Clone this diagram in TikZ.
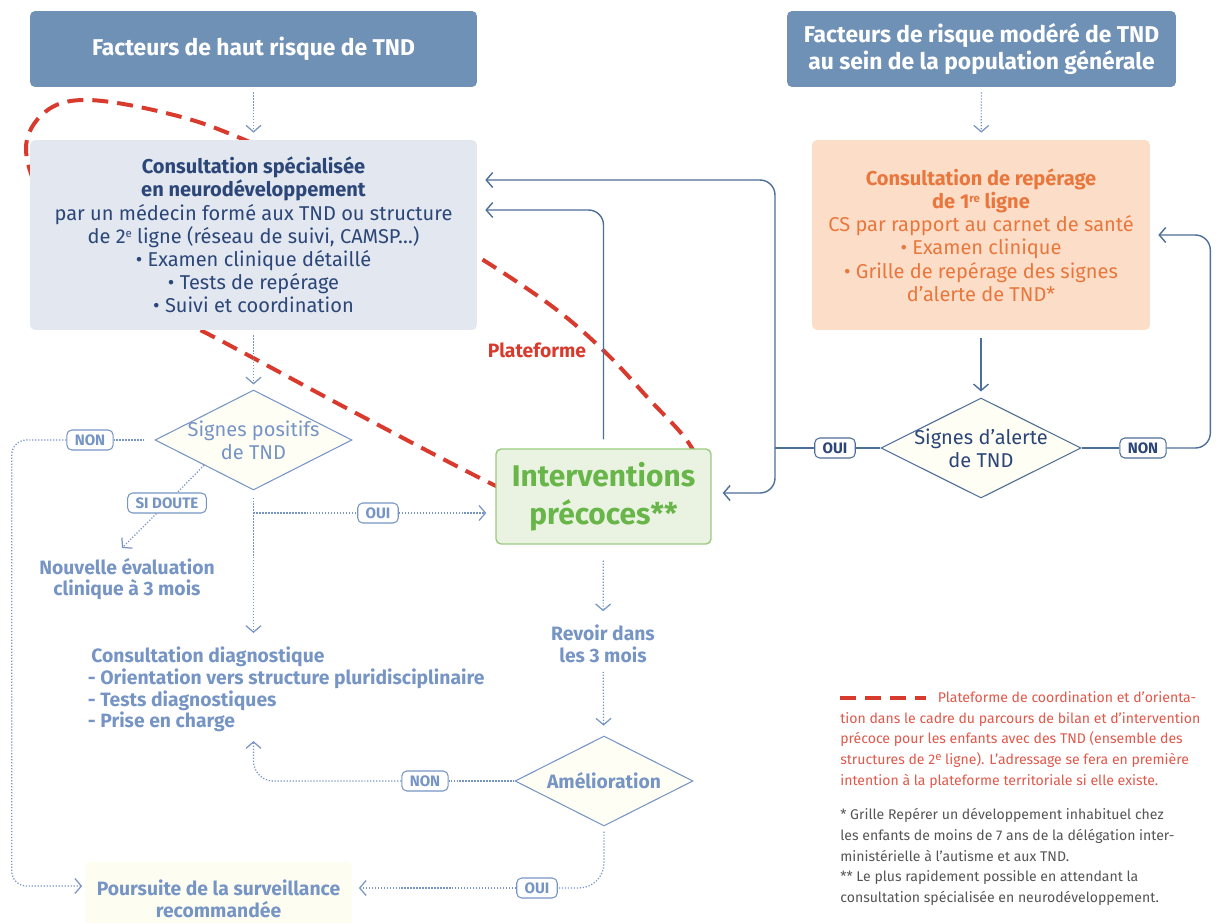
\documentclass[tikz,border=0pt]{standalone}
\usepackage{fontspec}
\setmainfont{Fira Sans}
\usetikzlibrary{shapes.geometric,arrows.meta}

\definecolor{bleuhaut}{HTML}{7091B6}
\definecolor{fondconsult}{HTML}{E2E7F0}
\definecolor{bleunuit}{HTML}{2B4677}
\definecolor{bleutrait}{HTML}{4D6E96}
\definecolor{bleuclair}{HTML}{7695C4}
\definecolor{fondorange}{HTML}{FCDDC7}
\definecolor{orangetxt}{HTML}{E9773D}
\definecolor{fondvert}{HTML}{EAF3E1}
\definecolor{bordvert}{HTML}{9BCB80}
\definecolor{vert}{HTML}{68B54A}
\definecolor{fondlosange}{HTML}{FEFEF5}
\definecolor{rougepf}{HTML}{D93A2E}
\definecolor{rougetxt}{HTML}{E0584A}
\definecolor{grisnote}{HTML}{555555}
\definecolor{fondpoursuite}{HTML}{FDFDF1}

\newcommand{\corps}{\fontsize{11.4}{13.2}\selectfont}
\newcommand{\gras}{\bfseries\fontsize{11}{12.4}\selectfont}
\newcommand{\expo}[1]{\raisebox{0.55ex}{\fontsize{6.5}{7}\selectfont #1}}

\tikzset{
  titre/.style={fill=bleuhaut, rounded corners=0.1cm, text=white, align=center,
    minimum height=1.52cm, font=\bfseries\fontsize{13}{15}\selectfont},
  boite/.style={rounded corners=0.1cm, align=center, inner sep=0pt},
  losange/.style={diamond, shape aspect=2, fill=fondlosange, inner sep=0pt, line width=0.6pt},
  texte/.style={align=center, inner sep=2pt},
  etiquette/.style={draw, fill=white, rounded corners=0.1cm, line width=0.6pt,
    inner xsep=4.5pt, inner ysep=0pt, minimum height=0.4cm, font=\bfseries\fontsize{8.6}{10}\selectfont},
  pointille/.style={draw=bleuclair, densely dotted, line width=0.7pt},
  fort/.style={draw=bleutrait, line width=0.8pt},
  fleche/.style={-{Straight Barb[length=0.13cm,width=0.3cm]}},
  plateforme/.style={draw=rougepf, line width=0.08cm, dash pattern=on 0.32cm off 0.18cm},
}

\begin{document}
\begin{tikzpicture}[x=0.02cm, y=-0.02cm]
   \useasboundingbox (0,0) rectangle (1218,923);

   \draw[plateforme] plot[smooth cycle, tension=0.6] coordinates {(26,150) (45,112) (88,100)
      (170,114) (245,140) (400,210) (477,256) (553,307) (605,352) (648,398) (690,445)
      (702,485) (660,527) (575,520) (496,486) (350,410) (210,335) (100,280) (48,210)};
   \node[text=rougepf, font=\bfseries\fontsize{11}{12}\selectfont] (pfLabel) at (537,350) {Plateforme};

   \node[titre, minimum width=8.94cm] (haut) at (253.5,49) {Facteurs de haut risque de TND};
   \node[titre, minimum width=7.78cm] (modere) at (981.5,49)
      {Facteurs de risque modéré de TND\\au sein de la population générale};

   \node[boite, fill=fondconsult, text=bleunuit, minimum width=8.94cm, minimum height=3.8cm, font=\corps]
      (consult) at (253.5,235) {\textbf{Consultation spécialisée}\\\textbf{en neurodéveloppement}\\
      par un médecin formé aux TND ou structure\\de 2\expo{e} ligne (réseau de suivi, CAMSP…)\\
      • Examen clinique détaillé\\• Tests de repérage\\• Suivi et coordination};
   \node[boite, fill=fondorange, text=orangetxt, minimum width=6.76cm, minimum height=3.8cm, font=\corps]
      (reperage) at (981,235) {\textbf{Consultation de repérage}\\\textbf{de 1\expo{re} ligne}\\
      CS par rapport au carnet de santé\\• Examen clinique\\• Grille de repérage des signes\\d’alerte de TND*};

   \node[losange, draw=bleutrait, minimum width=4cm, minimum height=2cm] (alerte) at (981,448) {};
   \node[texte, text=bleunuit, font=\corps] (alerteT) at (alerte) {Signes d’alerte\\de TND};
   \node[losange, draw=bleuclair, minimum width=3.94cm, minimum height=2cm] (positifs) at (253.5,440) {};
   \node[texte, text=bleuclair, font=\corps] (positifsT) at (positifs) {Signes positifs\\de TND};
   \node[losange, draw=bleuclair, text=bleuclair, minimum width=3.56cm, minimum height=1.8cm, font=\gras]
      (amelio) at (604,781) {Amélioration};

   \node[boite, fill=fondvert, draw=bordvert, line width=0.8pt, text=vert, minimum width=4.3cm,
      minimum height=1.9cm, font=\bfseries\fontsize{17}{21.5}\selectfont]
      (interv) at (603.5,496.5) {Interventions\\précoces**};

   \node[texte, text=bleuclair, font=\gras] (nouvelle) at (127,579) {Nouvelle évaluation\\clinique à 3 mois};
   \node[texte, text=bleuclair, font=\gras] (revoir) at (603,644) {Revoir dans\\les 3 mois};
   \node[texte, text=bleuclair, font=\gras, anchor=north west, align=left] (diag) at (84,643)
      {\hspace*{2pt}Consultation diagnostique\\- Orientation vers structure pluridisciplinaire\\
      - Tests diagnostiques\\- Prise en charge};
   \node[boite, fill=fondpoursuite, text=bleuclair, minimum width=5.34cm, minimum height=1.5cm, font=\gras]
      (poursuite) at (218.5,899) {Poursuite de la surveillance\\recommandée};

   \node[etiquette, draw=bleutrait, text=bleunuit] (ouiD) at (835,448) {OUI};
   \node[etiquette, draw=bleutrait, text=bleunuit] (nonD) at (1143,448) {NON};
   \node[etiquette, draw=bleuclair, text=bleuclair] (nonG) at (90,440) {NON};
   \node[etiquette, draw=bleuclair, text=bleuclair] (siDoute) at (167,503) {SI DOUTE};
   \node[etiquette, draw=bleuclair, text=bleuclair] (ouiG) at (378,513) {OUI};
   \node[etiquette, draw=bleuclair, text=bleuclair] (nonB) at (425,781) {NON};
   \node[etiquette, draw=bleuclair, text=bleuclair] (ouiB) at (537,888) {OUI};

   \coordinate (jonc) at (775,448);
   \coordinate (brancheOui) at (253.5,513);
   \coordinate (pointeDoute) at (122,548);

   \draw[pointille, fleche, shorten <=0.1cm, shorten >=0.14cm] (haut) -- (consult);
   \draw[pointille, fleche, shorten <=0.1cm, shorten >=0.14cm] (modere) -- (reperage);
   \draw[fort, fleche, shorten <=0.16cm, shorten >=0.12cm] (reperage) -- (alerte);
   \draw[fort] (alerte) -- (ouiD);
   \draw[fort] (ouiD) -- (jonc);
   \draw[fort, fleche, rounded corners=0.3cm, shorten >=0.16cm] (jonc) |- ([yshift=1.1cm]consult.east);
   \draw[fort, fleche, rounded corners=0.3cm, shorten >=0.22cm] (jonc) |- ([yshift=0.07cm]interv.east);
   \draw[fort] (alerte) -- (nonD);
   \draw[fort, fleche, rounded corners=0.3cm, shorten >=0.16cm] (nonD) -| ([xshift=1.2cm]reperage.east) -- (reperage.east);
   \draw[fort, fleche, rounded corners=0.3cm, shorten <=0.18cm, shorten >=0.16cm] (interv) |- ([yshift=0.5cm]consult.east);

   \draw[pointille, fleche, shorten <=0.1cm, shorten >=0.1cm] (consult) -- (positifs);
   \draw[pointille, shorten <=0.2cm] (positifs) -- (nonG);
   \draw[pointille, fleche, rounded corners=0.3cm, shorten >=0.05cm] (nonG) -| ([xshift=-1.46cm,yshift=0.26cm]poursuite.west) -- ([yshift=0.26cm]poursuite.west);
   \draw[pointille] (positifs.south west) -- (siDoute);
   \draw[pointille, fleche] (siDoute) -- (pointeDoute);
   \draw[pointille, fleche, shorten <=0.14cm, shorten >=0.2cm] (positifs) -- (positifs |- diag.north);
   \draw[pointille] (brancheOui) -- (ouiG);
   \draw[pointille, fleche, shorten >=0.18cm] (ouiG) -- (ouiG -| interv.west);
   \draw[pointille, fleche, shorten <=0.32cm, shorten >=0.2cm] (interv) -- (revoir);
   \draw[pointille, fleche, shorten <=0.1cm, shorten >=0.2cm] (revoir) -- (amelio);
   \draw[pointille] (amelio) -- (nonB);
   \draw[pointille, fleche, rounded corners=0.4cm, shorten >=0.1cm] (nonB) -| (positifs |- diag.south);
   \draw[pointille, rounded corners=0.5cm, shorten <=0.1cm] (amelio) |- (ouiB);
   \draw[pointille, fleche, shorten >=0.13cm] (ouiB) -- (ouiB -| poursuite.east);

   \draw[plateforme] (840,698) -- (926,698);
   \node[anchor=north west, inner sep=0pt, text=rougetxt, align=left, font=\fontsize{8}{11.8}\selectfont]
      (legende) at (840,691) {\hspace*{1.95cm}Plateforme de coordination et d’orienta-\\
      tion dans le cadre du parcours de bilan et d’intervention\\
      précoce pour les enfants avec des TND (ensemble des\\
      structures de 2\expo{e} ligne). L’adressage se fera en première\\
      intention à la plateforme territoriale si elle existe.};
   \node[anchor=north west, inner sep=0pt, text=grisnote, align=left, font=\fontsize{8}{11.8}\selectfont]
      (notes) at (840,808) {* Grille Repérer un développement inhabituel chez\\
      les enfants de moins de 7 ans de la délégation inter-\\
      ministérielle à l’autisme et aux TND.\\
      ** Le plus rapidement possible en attendant la\\
      consultation spécialisée en neurodéveloppement.};
\end{tikzpicture}
\end{document}
